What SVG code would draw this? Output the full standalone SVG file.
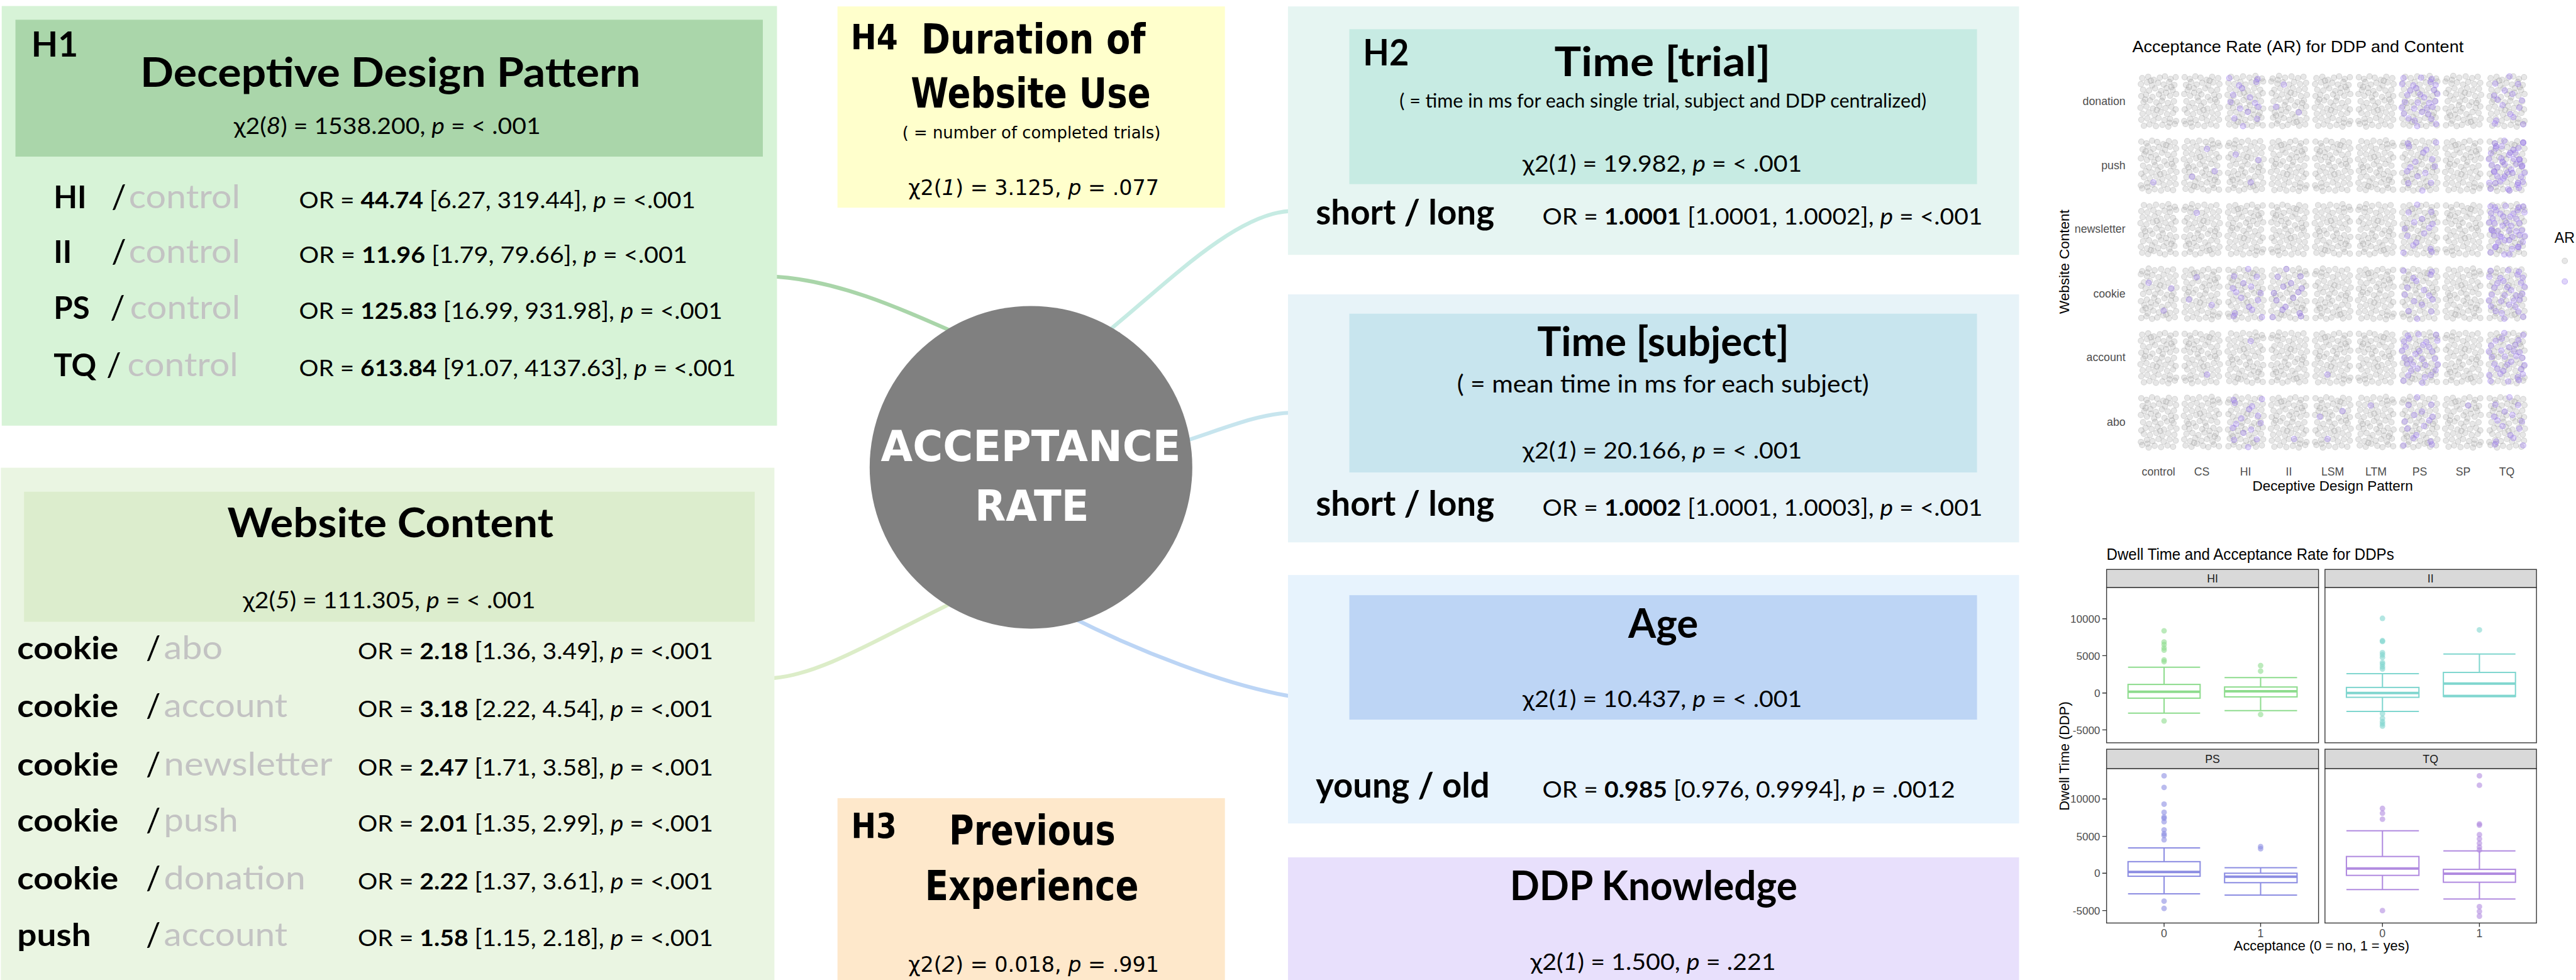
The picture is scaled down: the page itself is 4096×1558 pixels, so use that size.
<svg xmlns="http://www.w3.org/2000/svg" xmlns:xlink="http://www.w3.org/1999/xlink" width="4096" height="1558" viewBox="0 0 4096 1558">
<style>
.t{font-family:Lato,"Noto Sans","DejaVu Sans",sans-serif;fill:#000}
.w{font-family:"DejaVu Sans",Verdana,sans-serif;font-weight:bold;fill:#000}
.wn{font-family:"DejaVu Sans",Verdana,sans-serif;fill:#000}
.a{font-family:"Liberation Sans",Arial,sans-serif}
.b{font-weight:bold}
.i{font-style:italic}
.hd{font-weight:bold;font-size:94px}
.lab{font-weight:bold;font-size:72px}
.gr{fill:#c3c3c3;font-size:76px}
.sl{font-size:76px}
.or{font-size:54px}
.chi{font-size:54px}
.con{fill:none;stroke-width:9;stroke-linecap:round}
.gd{fill:#a3a3a3;fill-opacity:.26;stroke:#8c8c8c;stroke-opacity:.3;stroke-width:1.5}
.pd{fill:#9b78f0;fill-opacity:.32;stroke:#8a66e8;stroke-opacity:.4;stroke-width:1.5}
.ax{fill:#4d4d4d;font-size:26px}
.pan{fill:#fff;stroke:#333;stroke-width:2}
.strip{fill:#d9d9d9;stroke:#333;stroke-width:2}
.bx{fill:none;stroke-width:3}
.md{stroke-width:6}
</style>
<defs>
<g id="cA">
<circle cx="-38" cy="-54" r="6.5"/><circle cx="-24" cy="-57" r="6.5"/><circle cx="-11" cy="-50" r="6.5"/><circle cx="3" cy="-55" r="6.5"/><circle cx="15" cy="-58" r="6.5"/><circle cx="28" cy="-52" r="6.5"/><circle cx="40" cy="-56" r="6.5"/>
<circle cx="-41" cy="-40" r="6.5"/><circle cx="-27" cy="-44" r="6.5"/><circle cx="-15" cy="-37" r="6.5"/><circle cx="-1" cy="-43" r="6.5"/><circle cx="12" cy="-39" r="6.5"/><circle cx="25" cy="-45" r="6.5"/><circle cx="37" cy="-38" r="6.5"/>
<circle cx="-36" cy="-27" r="6.5"/><circle cx="-22" cy="-25" r="6.5"/><circle cx="-8" cy="-30" r="6.5"/><circle cx="6" cy="-24" r="6.5"/><circle cx="19" cy="-31" r="6.5"/><circle cx="33" cy="-26" r="6.5"/>
<circle cx="-40" cy="-12" r="6.5"/><circle cx="-29" cy="-15" r="6.5"/><circle cx="-14" cy="-10" r="6.5"/><circle cx="1" cy="-16" r="6.5"/><circle cx="10" cy="-9" r="6.5"/><circle cx="27" cy="-13" r="6.5"/><circle cx="41" cy="-17" r="6.5"/>
<circle cx="-35" cy="2" r="6.5"/><circle cx="-20" cy="-2" r="6.5"/><circle cx="-5" cy="3" r="6.5"/><circle cx="8" cy="-1" r="6.5"/><circle cx="22" cy="4" r="6.5"/><circle cx="36" cy="0" r="6.5"/>
<circle cx="-42" cy="15" r="6.5"/><circle cx="-28" cy="12" r="6.5"/><circle cx="-13" cy="17" r="6.5"/><circle cx="2" cy="11" r="6.5"/><circle cx="16" cy="16" r="6.5"/><circle cx="30" cy="13" r="6.5"/><circle cx="40" cy="19" r="6.5"/>
<circle cx="-37" cy="29" r="6.5"/><circle cx="-23" cy="26" r="6.5"/><circle cx="-9" cy="31" r="6.5"/><circle cx="5" cy="25" r="6.5"/><circle cx="20" cy="30" r="6.5"/><circle cx="34" cy="27" r="6.5"/>
<circle cx="-40" cy="43" r="6.5"/><circle cx="-26" cy="40" r="6.5"/><circle cx="-12" cy="45" r="6.5"/><circle cx="0" cy="39" r="6.5"/><circle cx="14" cy="44" r="6.5"/><circle cx="27" cy="41" r="6.5"/><circle cx="41" cy="46" r="6.5"/>
<circle cx="-34" cy="57" r="6.5"/><circle cx="-21" cy="54" r="6.5"/><circle cx="-6" cy="58" r="6.5"/><circle cx="9" cy="55" r="6.5"/><circle cx="23" cy="59" r="6.5"/><circle cx="38" cy="53" r="6.5"/>
<circle cx="-18" cy="-48" r="6.5"/><circle cx="30" cy="-33" r="6.5"/><circle cx="-31" cy="-4" r="6.5"/><circle cx="18" cy="-20" r="6.5"/><circle cx="-4" cy="20" r="6.5"/><circle cx="26" cy="50" r="6.5"/>
</g>
<g id="p1"><circle cx="12" cy="-39" r="6.5"/></g>
<g id="pS"><circle cx="12" cy="-39" r="6.5"/><circle cx="-23" cy="26" r="6.5"/><circle cx="30" cy="13" r="6.5"/></g>
<g id="pM">
<circle cx="-38" cy="-54" r="6.5"/><circle cx="28" cy="-52" r="6.5"/><circle cx="-15" cy="-37" r="6.5"/><circle cx="25" cy="-45" r="6.5"/><circle cx="-8" cy="-30" r="6.5"/><circle cx="-29" cy="-15" r="6.5"/><circle cx="10" cy="-9" r="6.5"/><circle cx="-35" cy="2" r="6.5"/><circle cx="22" cy="4" r="6.5"/><circle cx="-13" cy="17" r="6.5"/><circle cx="30" cy="13" r="6.5"/><circle cx="5" cy="25" r="6.5"/><circle cx="-26" cy="40" r="6.5"/><circle cx="27" cy="41" r="6.5"/><circle cx="-6" cy="58" r="6.5"/>
</g>
<g id="pL">
<use href="#pM"/>
<circle cx="3" cy="-55" r="6.5"/><circle cx="-41" cy="-40" r="6.5"/><circle cx="37" cy="-38" r="6.5"/><circle cx="-22" cy="-25" r="6.5"/><circle cx="33" cy="-26" r="6.5"/><circle cx="1" cy="-16" r="6.5"/><circle cx="41" cy="-17" r="6.5"/><circle cx="-5" cy="3" r="6.5"/><circle cx="36" cy="0" r="6.5"/><circle cx="-42" cy="15" r="6.5"/><circle cx="16" cy="16" r="6.5"/><circle cx="-37" cy="29" r="6.5"/><circle cx="20" cy="30" r="6.5"/><circle cx="-12" cy="45" r="6.5"/><circle cx="38" cy="53" r="6.5"/>
</g>
</defs>
<rect width="4096" height="1558" fill="#fff"/>
<g transform="scale(0.6822)">

<g id="connectors">
<path class="con" stroke="#a9d5a9" d="M1811,645 C1960,655 2100,720 2260,790"/>
<path class="con" stroke="#dcedc8" d="M1805,1580 C1920,1570 2060,1480 2250,1390"/>
<path class="con" stroke="#c6ebe3" d="M2560,790 C2700,680 2870,500 3005,492"/>
<path class="con" stroke="#c7e5ee" d="M2740,1035 C2850,1000 2930,965 3005,962"/>
<path class="con" stroke="#bcd5f5" d="M2500,1440 C2650,1515 2850,1595 3005,1622"/>
</g>

<g id="node-ddp" class="t">
<rect x="4" y="14" width="1807" height="978" fill="#d7f3d7"/>
<rect x="36" y="46" width="1742" height="319" fill="#aad6aa"/>
<text x="73" y="132" font-size="82" class="b" textLength="109" lengthAdjust="spacingAndGlyphs">H1</text>
<text x="327" y="203" class="hd" textLength="1166" lengthAdjust="spacingAndGlyphs">Deceptive Design Pattern</text>
<text x="545" y="312" class="chi" textLength="715" lengthAdjust="spacingAndGlyphs">χ2(<tspan class="i">8</tspan>) = 1538.200, <tspan class="i">p</tspan> = &lt; .001</text>
<text x="125" y="485" class="lab">HI</text><text x="260" y="485" class="sl">/</text><text x="300" y="485" class="gr" textLength="260" lengthAdjust="spacingAndGlyphs">control</text>
<text x="697" y="485" class="or" textLength="924" lengthAdjust="spacingAndGlyphs">OR = <tspan class="b">44.74</tspan> [6.27, 319.44], <tspan class="i">p</tspan> = &lt;.001</text>
<text x="125" y="612" class="lab">II</text><text x="260" y="612" class="sl">/</text><text x="300" y="612" class="gr" textLength="260" lengthAdjust="spacingAndGlyphs">control</text>
<text x="697" y="612" class="or" textLength="905" lengthAdjust="spacingAndGlyphs">OR = <tspan class="b">11.96</tspan>  [1.79, 79.66], <tspan class="i">p</tspan> = &lt;.001</text>
<text x="125" y="743" class="lab">PS</text><text x="257" y="743" class="sl">/</text><text x="303" y="743" class="gr" textLength="257" lengthAdjust="spacingAndGlyphs">control</text>
<text x="697" y="743" class="or" textLength="987" lengthAdjust="spacingAndGlyphs">OR = <tspan class="b">125.83</tspan> [16.99, 931.98], <tspan class="i">p</tspan> = &lt;.001</text>
<text x="125" y="877" class="lab">TQ</text><text x="248" y="877" class="sl">/</text><text x="297" y="877" class="gr" textLength="258" lengthAdjust="spacingAndGlyphs">control</text>
<text x="697" y="877" class="or" textLength="1018" lengthAdjust="spacingAndGlyphs">OR = <tspan class="b">613.84</tspan> [91.07, 4137.63], <tspan class="i">p</tspan> = &lt;.001</text>
</g>

<g id="node-content" class="t">
<rect x="2" y="1090" width="1803" height="1194" fill="#eaf5e2"/>
<rect x="56" y="1146" width="1703" height="303" fill="#dcedcd"/>
<text x="530" y="1252" class="hd" textLength="760" lengthAdjust="spacingAndGlyphs">Website Content</text>
<text x="566" y="1418" class="chi" textLength="682" lengthAdjust="spacingAndGlyphs">χ2(<tspan class="i">5</tspan>) = 111.305, <tspan class="i">p</tspan> = &lt; .001</text>
<text x="40" y="1536" class="lab" textLength="236" lengthAdjust="spacingAndGlyphs">cookie</text><text x="340" y="1536" class="sl">/</text><text x="382" y="1536" class="gr" textLength="137" lengthAdjust="spacingAndGlyphs">abo</text>
<text x="834" y="1536" class="or" textLength="828" lengthAdjust="spacingAndGlyphs">OR = <tspan class="b">2.18</tspan> [1.36, 3.49], <tspan class="i">p</tspan> = &lt;.001</text>
<text x="40" y="1671" class="lab" textLength="236" lengthAdjust="spacingAndGlyphs">cookie</text><text x="340" y="1671" class="sl">/</text><text x="382" y="1671" class="gr" textLength="288" lengthAdjust="spacingAndGlyphs">account</text>
<text x="834" y="1671" class="or" textLength="828" lengthAdjust="spacingAndGlyphs">OR = <tspan class="b">3.18</tspan> [2.22, 4.54], <tspan class="i">p</tspan> = &lt;.001</text>
<text x="40" y="1807" class="lab" textLength="236" lengthAdjust="spacingAndGlyphs">cookie</text><text x="340" y="1807" class="sl">/</text><text x="382" y="1807" class="gr" textLength="393" lengthAdjust="spacingAndGlyphs">newsletter</text>
<text x="834" y="1807" class="or" textLength="828" lengthAdjust="spacingAndGlyphs">OR = <tspan class="b">2.47</tspan> [1.71, 3.58], <tspan class="i">p</tspan> = &lt;.001</text>
<text x="40" y="1938" class="lab" textLength="236" lengthAdjust="spacingAndGlyphs">cookie</text><text x="340" y="1938" class="sl">/</text><text x="382" y="1938" class="gr" textLength="173" lengthAdjust="spacingAndGlyphs">push</text>
<text x="834" y="1938" class="or" textLength="828" lengthAdjust="spacingAndGlyphs">OR = <tspan class="b">2.01</tspan> [1.35, 2.99], <tspan class="i">p</tspan> = &lt;.001</text>
<text x="40" y="2073" class="lab" textLength="236" lengthAdjust="spacingAndGlyphs">cookie</text><text x="340" y="2073" class="sl">/</text><text x="382" y="2073" class="gr" textLength="330" lengthAdjust="spacingAndGlyphs">donation</text>
<text x="834" y="2073" class="or" textLength="828" lengthAdjust="spacingAndGlyphs">OR = <tspan class="b">2.22</tspan> [1.37, 3.61], <tspan class="i">p</tspan> = &lt;.001</text>
<text x="40" y="2205" class="lab" textLength="172" lengthAdjust="spacingAndGlyphs">push</text><text x="340" y="2205" class="sl">/</text><text x="382" y="2205" class="gr" textLength="288" lengthAdjust="spacingAndGlyphs">account</text>
<text x="834" y="2205" class="or" textLength="828" lengthAdjust="spacingAndGlyphs">OR = <tspan class="b">1.58</tspan> [1.15, 2.18], <tspan class="i">p</tspan> = &lt;.001</text>
</g>

<g id="node-duration">
<rect x="1952" y="15" width="903" height="469" fill="#ffffcc"/>
<text x="1983" y="114" class="w" font-size="80" textLength="110" lengthAdjust="spacingAndGlyphs">H4</text>
<text x="2147" y="124" class="w" font-size="96" textLength="523" lengthAdjust="spacingAndGlyphs">Duration of</text>
<text x="2123" y="251" class="w" font-size="96" textLength="559" lengthAdjust="spacingAndGlyphs">Website Use</text>
<text x="2103" y="323" class="wn" font-size="40" textLength="602" lengthAdjust="spacingAndGlyphs">( = number of completed trials)</text>
<text x="2117" y="454" class="wn" font-size="49">χ2(<tspan class="i">1</tspan>) = 3.125, <tspan class="i">p</tspan> = .077</text>
</g>

<g id="node-previous">
<rect x="1952" y="1860" width="903" height="424" fill="#fee8cb"/>
<text x="1984" y="1952" class="w" font-size="80" textLength="106" lengthAdjust="spacingAndGlyphs">H3</text>
<text x="2212" y="1969" class="w" font-size="96" textLength="388" lengthAdjust="spacingAndGlyphs">Previous</text>
<text x="2156" y="2097" class="w" font-size="96" textLength="498" lengthAdjust="spacingAndGlyphs">Experience</text>
<text x="2117" y="2265" class="wn" font-size="49">χ2(<tspan class="i">2</tspan>) = 0.018, <tspan class="i">p</tspan> = .991</text>
</g>

<g id="node-acceptance">
<circle cx="2403" cy="1089" r="376" fill="#808080"/>
<text x="2053" y="1075" class="w" font-size="100" style="fill:#fff" textLength="699" lengthAdjust="spacingAndGlyphs">ACCEPTANCE</text>
<text x="2272" y="1213" class="w" font-size="100" style="fill:#fff" textLength="266" lengthAdjust="spacingAndGlyphs">RATE</text>
</g>

<g id="node-time-trial" class="t">
<rect x="3002" y="15" width="1704" height="579" fill="#e6f5f2"/>
<rect x="3145" y="68" width="1463" height="361" fill="#c7ebe3"/>
<text x="3177" y="153" font-size="84" class="b" textLength="107" lengthAdjust="spacingAndGlyphs">H2</text>
<text x="3623" y="177" class="hd" textLength="504" lengthAdjust="spacingAndGlyphs">Time [trial]</text>
<text x="3262" y="250" font-size="44" textLength="1228" lengthAdjust="spacingAndGlyphs">( = time in ms for each single trial, subject and DDP centralized)</text>
<text x="3549" y="400" class="chi" textLength="651" lengthAdjust="spacingAndGlyphs">χ2(<tspan class="i">1</tspan>) = 19.982, <tspan class="i">p</tspan> = &lt; .001</text>
<text x="3067" y="524" font-size="82" class="b" textLength="416" lengthAdjust="spacingAndGlyphs">short / long</text>
<text x="3595" y="524" class="or" textLength="1026" lengthAdjust="spacingAndGlyphs">OR = <tspan class="b">1.0001</tspan> [1.0001, 1.0002], <tspan class="i">p</tspan> = &lt;.001</text>
</g>

<g id="node-time-subject" class="t">
<rect x="3002" y="686" width="1704" height="578" fill="#e7f3f8"/>
<rect x="3145" y="731" width="1463" height="370" fill="#c8e5ee"/>
<text x="3583" y="829" class="hd" textLength="587" lengthAdjust="spacingAndGlyphs">Time [subject]</text>
<text x="3396" y="914" font-size="56" textLength="960" lengthAdjust="spacingAndGlyphs">( = mean time in ms for each subject)</text>
<text x="3549" y="1069" class="chi" textLength="651" lengthAdjust="spacingAndGlyphs">χ2(<tspan class="i">1</tspan>) = 20.166, <tspan class="i">p</tspan> = &lt; .001</text>
<text x="3067" y="1202" font-size="82" class="b" textLength="416" lengthAdjust="spacingAndGlyphs">short / long</text>
<text x="3595" y="1202" class="or" textLength="1026" lengthAdjust="spacingAndGlyphs">OR = <tspan class="b">1.0002</tspan> [1.0001, 1.0003], <tspan class="i">p</tspan> = &lt;.001</text>
</g>

<g id="node-age" class="t">
<rect x="3002" y="1340" width="1704" height="579" fill="#e7f3fd"/>
<rect x="3145" y="1387" width="1463" height="290" fill="#bdd5f5"/>
<text x="3795" y="1487" class="hd" textLength="163" lengthAdjust="spacingAndGlyphs">Age</text>
<text x="3549" y="1647" class="chi" textLength="651" lengthAdjust="spacingAndGlyphs">χ2(<tspan class="i">1</tspan>) = 10.437, <tspan class="i">p</tspan> = &lt; .001</text>
<text x="3067" y="1859" font-size="82" class="b" textLength="405" lengthAdjust="spacingAndGlyphs">young / old</text>
<text x="3595" y="1859" class="or" textLength="962" lengthAdjust="spacingAndGlyphs">OR = <tspan class="b">0.985</tspan> [0.976, 0.9994], <tspan class="i">p</tspan> = .0012</text>
</g>

<g id="node-knowledge" class="t">
<rect x="3002" y="1998" width="1704" height="286" fill="#e8e0fc"/>
<text x="3519" y="2098" class="hd" textLength="670" lengthAdjust="spacingAndGlyphs">DDP Knowledge</text>
<text x="3567" y="2260" class="chi" textLength="572" lengthAdjust="spacingAndGlyphs">χ2(<tspan class="i">1</tspan>) = 1.500, <tspan class="i">p</tspan> = .221</text>
</g>

<g id="plot-acceptance" class="a">
<text x="4970" y="121" font-size="38" textLength="772" lengthAdjust="spacingAndGlyphs">Acceptance Rate (AR) for DDP and Content</text>
<g class="gd">
<use href="#cA" transform="translate(5031,236)"/><use href="#cA" transform="translate(5132,236) scale(-1,1)"/><use href="#cA" transform="translate(5234,236) scale(1,-1)"/><use href="#cA" transform="translate(5335,236) scale(-1,-1)"/><use href="#cA" transform="translate(5437,236)"/><use href="#cA" transform="translate(5538,236) scale(-1,1)"/><use href="#cA" transform="translate(5640,236) scale(1,-1)"/><use href="#cA" transform="translate(5741,236) scale(-1,-1)"/><use href="#cA" transform="translate(5843,236)"/>
<use href="#cA" transform="translate(5031,386) scale(-1,1)"/><use href="#cA" transform="translate(5132,386) scale(1,-1)"/><use href="#cA" transform="translate(5234,386) scale(-1,-1)"/><use href="#cA" transform="translate(5335,386)"/><use href="#cA" transform="translate(5437,386) scale(-1,1)"/><use href="#cA" transform="translate(5538,386) scale(1,-1)"/><use href="#cA" transform="translate(5640,386) scale(-1,-1)"/><use href="#cA" transform="translate(5741,386)"/><use href="#cA" transform="translate(5843,386) scale(-1,1)"/>
<use href="#cA" transform="translate(5031,535) scale(1,-1)"/><use href="#cA" transform="translate(5132,535) scale(-1,-1)"/><use href="#cA" transform="translate(5234,535)"/><use href="#cA" transform="translate(5335,535) scale(-1,1)"/><use href="#cA" transform="translate(5437,535) scale(1,-1)"/><use href="#cA" transform="translate(5538,535) scale(-1,-1)"/><use href="#cA" transform="translate(5640,535)"/><use href="#cA" transform="translate(5741,535) scale(-1,1)"/><use href="#cA" transform="translate(5843,535) scale(1,-1)"/>
<use href="#cA" transform="translate(5031,685) scale(-1,-1)"/><use href="#cA" transform="translate(5132,685)"/><use href="#cA" transform="translate(5234,685) scale(-1,1)"/><use href="#cA" transform="translate(5335,685) scale(1,-1)"/><use href="#cA" transform="translate(5437,685) scale(-1,-1)"/><use href="#cA" transform="translate(5538,685)"/><use href="#cA" transform="translate(5640,685) scale(-1,1)"/><use href="#cA" transform="translate(5741,685) scale(1,-1)"/><use href="#cA" transform="translate(5843,685) scale(-1,-1)"/>
<use href="#cA" transform="translate(5031,834)"/><use href="#cA" transform="translate(5132,834) scale(-1,1)"/><use href="#cA" transform="translate(5234,834) scale(1,-1)"/><use href="#cA" transform="translate(5335,834) scale(-1,-1)"/><use href="#cA" transform="translate(5437,834)"/><use href="#cA" transform="translate(5538,834) scale(-1,1)"/><use href="#cA" transform="translate(5640,834) scale(1,-1)"/><use href="#cA" transform="translate(5741,834) scale(-1,-1)"/><use href="#cA" transform="translate(5843,834)"/>
<use href="#cA" transform="translate(5031,984) scale(-1,1)"/><use href="#cA" transform="translate(5132,984) scale(1,-1)"/><use href="#cA" transform="translate(5234,984) scale(-1,-1)"/><use href="#cA" transform="translate(5335,984)"/><use href="#cA" transform="translate(5437,984) scale(-1,1)"/><use href="#cA" transform="translate(5538,984) scale(1,-1)"/><use href="#cA" transform="translate(5640,984) scale(-1,-1)"/><use href="#cA" transform="translate(5741,984)"/><use href="#cA" transform="translate(5843,984) scale(-1,1)"/>
</g>
<g class="pd">
<use href="#pM" transform="translate(5234,236)"/><use href="#pS" transform="translate(5335,236) scale(-1,1)"/><use href="#pL" transform="translate(5640,236)"/><use href="#pM" transform="translate(5843,236) scale(-1,-1)"/>
<use href="#p1" transform="translate(5031,386) scale(-1,-1)"/><use href="#pS" transform="translate(5132,386)"/><use href="#pS" transform="translate(5234,386) scale(1,-1)"/><use href="#pM" transform="translate(5640,386) scale(-1,1)"/><use href="#pL" transform="translate(5843,386) scale(1,-1)"/><use href="#pM" transform="translate(5843,386) scale(-1,1)"/>
<use href="#p1" transform="translate(5132,535) scale(-1,1)"/><use href="#pM" transform="translate(5640,535) scale(1,-1)"/><use href="#pL" transform="translate(5843,535) scale(-1,1)"/><use href="#pM" transform="translate(5843,535)"/>
<use href="#pS" transform="translate(5031,685) scale(1,-1)"/><use href="#pS" transform="translate(5132,685) scale(-1,1)"/><use href="#pM" transform="translate(5234,685) scale(-1,-1)"/><use href="#pM" transform="translate(5335,685) scale(1,-1)"/><use href="#pM" transform="translate(5640,685)"/><use href="#pL" transform="translate(5843,685)"/>
<use href="#p1" transform="translate(5132,834) scale(1,-1)"/><use href="#p1" transform="translate(5234,834)"/><use href="#p1" transform="translate(5437,834) scale(-1,-1)"/><use href="#pL" transform="translate(5640,834) scale(-1,1)"/><use href="#pL" transform="translate(5843,834) scale(1,-1)"/>
<use href="#pM" transform="translate(5234,984) scale(-1,1)"/><use href="#p1" transform="translate(5335,984) scale(1,-1)"/><use href="#pS" transform="translate(5437,984) scale(-1,-1)"/><use href="#p1" transform="translate(5538,984) scale(-1,1)"/><use href="#pM" transform="translate(5640,984) scale(1,-1)"/><use href="#p1" transform="translate(5741,984)"/><use href="#pM" transform="translate(5843,984) scale(-1,-1)"/>
</g>
<g class="ax" text-anchor="end">
<text x="4954" y="245">donation</text><text x="4954" y="394">push</text><text x="4954" y="543">newsletter</text><text x="4954" y="693">cookie</text><text x="4954" y="842">account</text><text x="4954" y="992">abo</text>
</g>
<g class="ax" text-anchor="middle">
<text x="5031" y="1108">control</text><text x="5132" y="1108">CS</text><text x="5234" y="1108">HI</text><text x="5335" y="1108">II</text><text x="5437" y="1108">LSM</text><text x="5538" y="1108">LTM</text><text x="5640" y="1108">PS</text><text x="5741" y="1108">SP</text><text x="5843" y="1108">TQ</text>
</g>
<text x="5437" y="1144" font-size="33" text-anchor="middle">Deceptive Design Pattern</text>
<text transform="translate(4822,610) rotate(-90)" font-size="33" text-anchor="middle">Website Content</text>
<text x="5954" y="566" font-size="34">AR</text>
<circle cx="5978" cy="608" r="6.5" class="gd"/>
<circle cx="5978" cy="656" r="6.5" class="pd"/>
</g>

<g id="plot-dwell" class="a">
<text x="4910" y="1304" font-size="37" textLength="670" lengthAdjust="spacingAndGlyphs">Dwell Time and Acceptance Rate for DDPs</text>
<rect class="pan" x="4910" y="1369" width="494" height="362"/>
<rect class="pan" x="5419" y="1369" width="493" height="362"/>
<rect class="pan" x="4910" y="1791" width="494" height="360"/>
<rect class="pan" x="5419" y="1791" width="493" height="360"/>
<rect class="strip" x="4910" y="1327" width="494" height="42"/>
<rect class="strip" x="5419" y="1327" width="493" height="42"/>
<rect class="strip" x="4910" y="1746" width="494" height="45"/>
<rect class="strip" x="5419" y="1746" width="493" height="45"/>
<g font-size="26" fill="#1a1a1a" text-anchor="middle">
<text x="5157" y="1357">HI</text><text x="5665" y="1357">II</text><text x="5157" y="1778">PS</text><text x="5665" y="1778">TQ</text>
</g>
<g stroke="#333" stroke-width="2">
<path d="M4900,1442H4910M4900,1528H4910M4900,1615H4910M4900,1701H4910M4900,1862H4910M4900,1949H4910M4900,2035H4910M4900,2122H4910M5044,2151V2160M5269,2151V2160M5553,2151V2160M5779,2151V2160"/>
</g>
<g class="ax" text-anchor="end" style="font-size:25px">
<text x="4895" y="1451">10000</text><text x="4895" y="1537">5000</text><text x="4895" y="1624">0</text><text x="4895" y="1710">-5000</text>
<text x="4895" y="1871">10000</text><text x="4895" y="1958">5000</text><text x="4895" y="2044">0</text><text x="4895" y="2131">-5000</text>
</g>
<g class="ax" text-anchor="middle">
<text x="5044" y="2184">0</text><text x="5269" y="2184">1</text><text x="5553" y="2184">0</text><text x="5779" y="2184">1</text>
</g>
<text x="5411" y="2215" font-size="32" text-anchor="middle">Acceptance (0 = no, 1 = yes)</text>
<text transform="translate(4822,1762) rotate(-90)" font-size="32" text-anchor="middle">Dwell Time (DDP)</text>

<g stroke="#8edc8e" fill="#8edc8e">
<rect class="bx" x="4960" y="1595" width="168" height="32"/>
<path class="bx" d="M5044,1595V1555M5044,1627V1662M4960,1555H5128M4960,1662H5128"/>
<path class="md" d="M4960,1612H5128"/>
<rect class="bx" x="5185" y="1601" width="169" height="23"/>
<path class="bx" d="M5269,1601V1579M5269,1624V1656M5185,1579H5354M5185,1656H5354"/>
<path class="md" d="M5185,1611H5354"/>
<g stroke="none" fill-opacity=".6">
<circle cx="5044" cy="1470" r="6.5"/><circle cx="5044" cy="1496" r="6.5"/><circle cx="5044" cy="1502" r="6.5"/><circle cx="5044" cy="1510" r="6.5"/><circle cx="5044" cy="1515" r="6.5"/><circle cx="5044" cy="1538" r="6.5"/><circle cx="5044" cy="1542" r="6.5"/><circle cx="5044" cy="1680" r="6.5"/>
<circle cx="5269" cy="1551" r="6.5"/><circle cx="5269" cy="1564" r="6.5"/><circle cx="5269" cy="1665" r="6.5"/>
</g>
</g>
<g stroke="#80d6cf" fill="#80d6cf">
<rect class="bx" x="5469" y="1602" width="169" height="23"/>
<path class="bx" d="M5553,1602V1570M5553,1625V1658M5469,1570H5638M5469,1658H5638"/>
<path class="md" d="M5469,1615H5638"/>
<rect class="bx" x="5695" y="1567" width="168" height="56"/>
<path class="bx" d="M5779,1567V1524M5695,1524H5863"/>
<path class="md" d="M5695,1593H5863M5695,1622H5863"/>
<g stroke="none" fill-opacity=".6">
<circle cx="5553" cy="1441" r="6.5"/><circle cx="5553" cy="1493" r="6.5"/><circle cx="5553" cy="1495" r="6.5"/><circle cx="5553" cy="1521" r="6.5"/><circle cx="5553" cy="1526" r="6.5"/><circle cx="5553" cy="1532" r="6.5"/><circle cx="5553" cy="1544" r="6.5"/><circle cx="5553" cy="1548" r="6.5"/><circle cx="5553" cy="1554" r="6.5"/><circle cx="5553" cy="1559" r="6.5"/><circle cx="5553" cy="1663" r="6.5"/><circle cx="5553" cy="1674" r="6.5"/><circle cx="5553" cy="1682" r="6.5"/><circle cx="5553" cy="1687" r="6.5"/><circle cx="5553" cy="1692" r="6.5"/>
<circle cx="5779" cy="1468" r="6.5"/>
</g>
</g>
<g stroke="#8c8de2" fill="#8c8de2">
<rect class="bx" x="4960" y="2008" width="168" height="34"/>
<path class="bx" d="M5044,2008V1976M5044,2042V2083M4960,1976H5128M4960,2083H5128"/>
<path class="md" d="M4960,2032H5128"/>
<rect class="bx" x="5185" y="2035" width="169" height="22"/>
<path class="bx" d="M5269,2035V2022M5269,2057V2086M5185,2022H5354M5185,2086H5354"/>
<path class="md" d="M5185,2043H5354"/>
<g stroke="none" fill-opacity=".6">
<circle cx="5044" cy="1808" r="6.5"/><circle cx="5044" cy="1835" r="6.5"/><circle cx="5044" cy="1874" r="6.5"/><circle cx="5044" cy="1893" r="6.5"/><circle cx="5044" cy="1904" r="6.5"/><circle cx="5044" cy="1907" r="6.5"/><circle cx="5044" cy="1915" r="6.5"/><circle cx="5044" cy="1934" r="6.5"/><circle cx="5044" cy="1943" r="6.5"/><circle cx="5044" cy="1947" r="6.5"/><circle cx="5044" cy="1957" r="6.5"/><circle cx="5044" cy="2100" r="6.5"/><circle cx="5044" cy="2117" r="6.5"/>
<circle cx="5269" cy="1973" r="6.5"/><circle cx="5269" cy="1978" r="6.5"/>
</g>
</g>
<g stroke="#b18be0" fill="#b18be0">
<rect class="bx" x="5469" y="1996" width="169" height="44"/>
<path class="bx" d="M5553,1996V1936M5553,2040V2073M5469,1936H5638M5469,2073H5638"/>
<path class="md" d="M5469,2024H5638"/>
<rect class="bx" x="5695" y="2026" width="168" height="30"/>
<path class="bx" d="M5779,2026V1983M5779,2056V2095M5695,1983H5863M5695,2095H5863"/>
<path class="md" d="M5695,2036H5863"/>
<g stroke="none" fill-opacity=".6">
<circle cx="5553" cy="1884" r="6.5"/><circle cx="5553" cy="1895" r="6.5"/><circle cx="5553" cy="1909" r="6.5"/><circle cx="5553" cy="2122" r="6.5"/>
<circle cx="5779" cy="1808" r="6.5"/><circle cx="5779" cy="1830" r="6.5"/><circle cx="5779" cy="1920" r="6.5"/><circle cx="5779" cy="1923" r="6.5"/><circle cx="5779" cy="1945" r="6.5"/><circle cx="5779" cy="1955" r="6.5"/><circle cx="5779" cy="1965" r="6.5"/><circle cx="5779" cy="1974" r="6.5"/><circle cx="5779" cy="1981" r="6.5"/><circle cx="5779" cy="2113" r="6.5"/><circle cx="5779" cy="2124" r="6.5"/><circle cx="5779" cy="2135" r="6.5"/>
</g>
</g>
</g>

</g>
</svg>
